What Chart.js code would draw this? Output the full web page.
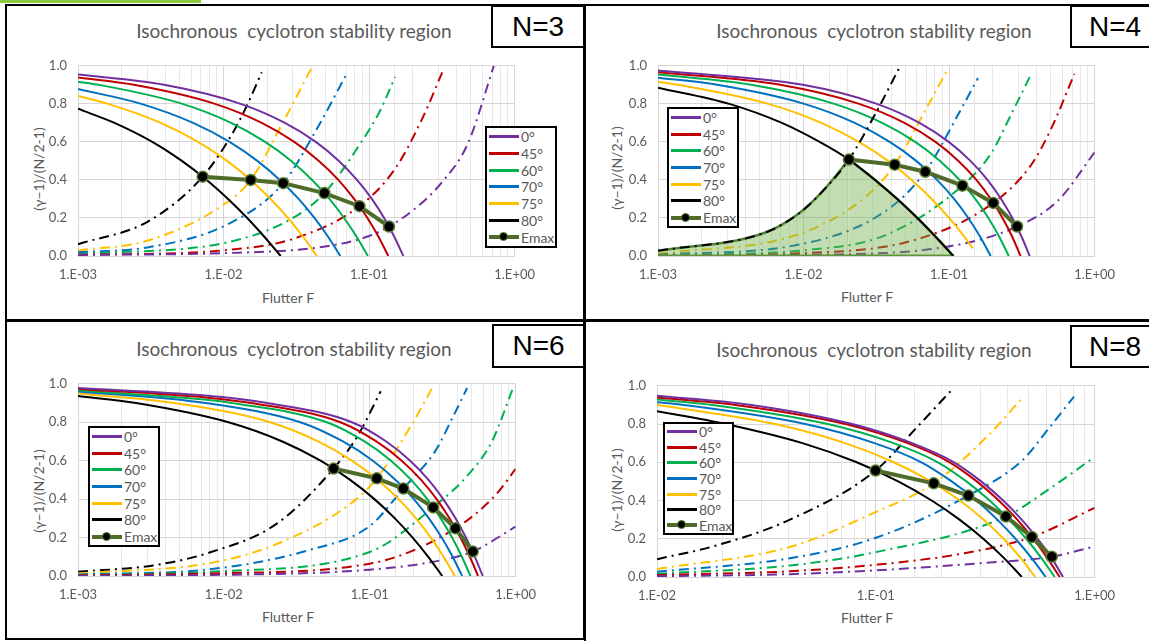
<!DOCTYPE html>
<html>
<head>
<meta charset="utf-8">
<script src="https://cdn.jsdelivr.net/npm/chart.js@4.4.0/dist/chart.umd.min.js"></script>
<style>
  body { margin: 0; background: #fff; }
  #page { position: relative; width: 1149px; height: 641px; overflow: hidden; background: #fff; font-family: Lato, "Open Sans", sans-serif; }
  .frame { position: absolute; border: 2px solid #000; box-sizing: border-box; }
  .title { position: absolute; transform: translate(-50%, -50%); white-space: pre; color: #595959; font-size: 19px; }
  .axt { position: absolute; transform: translate(-50%, -50%); white-space: nowrap; color: #595959; font-size: 14px; }
  .axt.y { transform: translate(-50%, -50%) rotate(-90deg); font-size: 14px; }
  .nbox { position: absolute; border: 2px solid #000; box-sizing: border-box; background: #fff;
          font-family: "Liberation Sans", Arial, sans-serif; font-size: 28px; color: #000;
          display: flex; align-items: center; justify-content: center; }
  .legend { position: absolute; border: 2px solid #000; box-sizing: border-box; background: #fff; padding: 0 0 0 2px; }
  .row { display: flex; align-items: center; color: #595959; font-size: 14px; }
  .smp { position: relative; width: 30px; height: 3px; margin-right: 2px; flex: none; }
  .dot { position: absolute; left: 10px; top: -3px; width: 7px; height: 7px; border-radius: 50%; background: #000; border: 1.5px solid #5a7d33; }
</style>
</head>
<body>
<div id="page"></div>
<script>
// ---- series (F, y); one list per angle ----
const ANGLES = ['0°', '45°', '60°', '70°', '75°', '80°'];
const ANGLE_COLORS = ['#7030a0', '#c00000', '#00b050', '#0070c0', '#ffc000', '#000000'];
const X_TICK_LABELS = ['1.E-03', '1.E-02', '1.E-01', '1.E+00'];
const Y_TICK_LABELS = ['0.0', '0.2', '0.4', '0.6', '0.8', '1.0'];
const TITLE = 'Isochronous  cyclotron stability region';
const X_TITLE = 'Flutter F';
const Y_TITLE = '(γ−1)/(N/2-1)';

// N=3
const N3_SOLID = [
  [[1e-3,0.954],[0.0039,0.9],[0.0131,0.8],[0.0264,0.7],[0.043,0.6],[0.062,0.5],[0.0826,0.4],[0.1044,0.3],[0.1268,0.2],[0.1493,0.1],[0.172,0]],
  [[1e-3,0.938],[0.00242,0.9],[0.00873,0.8],[0.0183,0.7],[0.0306,0.6],[0.0452,0.5],[0.0615,0.4],[0.0789,0.3],[0.0974,0.2],[0.1163,0.1],[0.1355,0]],
  [[1e-3,0.916],[0.00139,0.9],[0.00522,0.8],[0.01128,0.7],[0.0193,0.6],[0.0292,0.5],[0.0406,0.4],[0.0534,0.3],[0.0673,0.2],[0.0823,0.1],[0.098,0]],
  [[1e-3,0.878],[0.00272,0.8],[0.00618,0.7],[0.011,0.6],[0.01706,0.5],[0.02435,0.4],[0.0328,0.3],[0.0421,0.2],[0.0524,0.1],[0.0634,0]],
  [[1e-3,0.841],[0.00161,0.8],[0.0037,0.7],[0.00668,0.6],[0.01056,0.5],[0.01535,0.4],[0.02106,0.3],[0.0277,0.2],[0.0353,0.1],[0.0438,0]],
  [[1e-3,0.774],[0.00178,0.7],[0.00324,0.6],[0.00517,0.5],[0.00766,0.4],[0.01074,0.3],[0.01454,0.2],[0.01913,0.1],[0.0247,0]],
];
const N3_DASH = [
  [[1e-3,0.006],[0.01,0.015],[0.05,0.05],[0.1,0.105],[0.137,0.155],[0.2,0.24],[0.313,0.383],[0.477,0.591],[0.72,1.0]],
  [[1e-3,0.005],[0.01,0.03],[0.03,0.09],[0.0859,0.262],[0.151,0.459],[0.229,0.713],[0.322,0.975]],
  [[1e-3,0.009],[0.0109,0.074],[0.03,0.2],[0.0493,0.331],[0.0891,0.603],[0.119,0.764],[0.151,0.941]],
  [[1e-3,0.02],[3e-3,0.045],[0.0109,0.17],[0.0257,0.383],[0.0439,0.67],[0.0702,0.958]],
  [[1e-3,0.029],[3e-3,0.08],[0.01,0.27],[0.0154,0.40],[0.0253,0.696],[0.041,1.0]],
  [[1e-3,0.062],[3e-3,0.18],[0.00719,0.417],[0.01153,0.645],[0.0146,0.797],[0.0183,0.966]],
];
const N3_EMAX = [[0.00719,0.417],[0.01538,0.400],[0.0257,0.383],[0.0493,0.331],[0.0859,0.262],[0.137,0.155]];

// N=4
const N4_SOLID = [
  [[1e-3,0.975],[0.00989,0.9],[0.0319,0.8],[0.0626,0.7],[0.0994,0.6],[0.1402,0.5],[0.1835,0.4],[0.2278,0.3],[0.272,0.2],[0.3155,0.1],[0.358,0]],
  [[1e-3,0.966],[0.0069,0.9],[0.0241,0.8],[0.0493,0.7],[0.0806,0.6],[0.116,0.5],[0.154,0.4],[0.1933,0.3],[0.2329,0.2],[0.2719,0.1],[0.31,0]],
  [[1e-3,0.954],[0.00437,0.9],[0.01626,0.8],[0.0347,0.7],[0.0585,0.6],[0.0866,0.5],[0.1179,0.4],[0.1513,0.3],[0.1862,0.2],[0.2215,0.1],[0.257,0]],
  [[1e-3,0.9375],[0.00255,0.9],[0.01012,0.8],[0.02247,0.7],[0.0391,0.6],[0.0594,0.5],[0.0827,0.4],[0.1082,0.3],[0.1354,0.2],[0.1639,0.1],[0.193,0]],
  [[1e-3,0.916],[0.001374,0.9],[0.00574,0.8],[0.01324,0.7],[0.02397,0.6],[0.038,0.5],[0.0553,0.4],[0.076,0.3],[0.1,0.2],[0.1275,0.1],[0.1456,0.04]],
  [[1e-3,0.885],[0.00309,0.8],[0.00709,0.7],[0.0129,0.6],[0.0205,0.507],[0.031,0.4],[0.044,0.3],[0.0605,0.2],[0.0811,0.1],[0.107,0]],
];
const N4_DASH = [
  [[1e-3,0.001],[0.01,0.006],[0.099,0.05],[0.293,0.155],[0.558,0.29],[1.0,0.545]],
  [[1e-3,0.002],[0.01,0.015],[0.0586,0.085],[0.201,0.279],[0.367,0.48],[0.503,0.67],[0.726,0.958]],
  [[1e-3,0.004],[0.01,0.03],[0.0366,0.11],[0.1234,0.370],[0.196,0.544],[0.268,0.747],[0.367,0.958]],
  [[1e-3,0.007],[0.00933,0.06],[0.0366,0.236],[0.0686,0.443],[0.116,0.747],[0.158,0.936]],
  [[1e-3,0.012],[0.00933,0.115],[0.0266,0.31],[0.0423,0.48],[0.0723,0.797],[0.098,0.983]],
  [[1e-3,0.027],[0.00553,0.125],[0.00933,0.225],[0.0135,0.34],[0.0205,0.507],[0.032,0.764],[0.0462,1.0]],
];
const N4_EMAX = [[0.0205,0.507],[0.0423,0.480],[0.0686,0.443],[0.1234,0.370],[0.201,0.279],[0.293,0.155]];

// N=6
const N6_SOLID = [
  [[1e-3,0.978],[0.00714,0.94],[0.0198,0.9],[0.0755,0.8],[0.1296,0.7],[0.1893,0.6],[0.2529,0.5],[0.319,0.4],[0.3871,0.3],[0.456,0.2],[0.5256,0.1],[0.595,0]],
  [[1e-3,0.973],[0.00772,0.928],[0.0154,0.9],[0.0628,0.8],[0.111,0.7],[0.1656,0.6],[0.2248,0.5],[0.2873,0.4],[0.352,0.3],[0.4183,0.2],[0.4854,0.1],[0.553,0]],
  [[1e-3,0.966],[0.00702,0.919],[0.01131,0.9],[0.0508,0.8],[0.092,0.7],[0.1397,0.6],[0.1921,0.5],[0.248,0.4],[0.3065,0.3],[0.3667,0.2],[0.428,0.1],[0.49,0]],
  [[1e-3,0.96],[0.00746,0.9],[0.0334,0.8],[0.0655,0.7],[0.105,0.6],[0.1504,0.5],[0.2007,0.4],[0.2544,0.3],[0.3113,0.2],[0.3699,0.1],[0.43,0]],
  [[1e-3,0.95],[0.00457,0.9],[0.02074,0.8],[0.0443,0.7],[0.0754,0.6],[0.1135,0.5],[0.1578,0.4],[0.2075,0.3],[0.262,0.2],[0.3207,0.1],[0.383,0]],
  [[1e-3,0.936],[0.0025,0.9],[0.01075,0.8],[0.02516,0.7],[0.046,0.6],[0.0734,0.5],[0.1076,0.4],[0.1487,0.3],[0.1967,0.2],[0.2518,0.1],[0.314,0]],
];
const N6_DASH = [
  [[1e-3,0.001],[0.00798,0.005],[0.1,0.033],[0.3,0.08],[0.508,0.1275],[1.0,0.257]],
  [[1e-3,0.003],[0.00798,0.013],[0.1,0.064],[0.387,0.248],[0.726,0.42],[1.0,0.557]],
  [[1e-3,0.005],[0.00798,0.022],[0.1,0.125],[0.272,0.357],[0.477,0.53],[0.689,0.701],[0.969,0.987]],
  [[1e-3,0.008],[0.00798,0.035],[0.0385,0.135],[0.1,0.26],[0.170,0.455],[0.282,0.651],[0.367,0.819],[0.465,0.978]],
  [[1e-3,0.013],[0.00798,0.067],[0.0228,0.165],[0.076,0.383],[0.1117,0.508],[0.196,0.794],[0.268,0.978]],
  [[1e-3,0.022],[0.00327,0.055],[0.00798,0.122],[0.0228,0.27],[0.0565,0.559],[0.0823,0.727],[0.1189,0.961]],
];
const N6_EMAX = [[0.0565,0.559],[0.1117,0.508],[0.170,0.455],[0.272,0.357],[0.387,0.248],[0.508,0.1275]];

// N=8 (axis starts at 1e-2)
const N8_SOLID = [
  [[0.01,0.948],[0.027,0.9],[0.078,0.8],[0.1464,0.7],[0.2278,0.6],[0.3028,0.5],[0.382,0.4],[0.464,0.3],[0.549,0.2],[0.6355,0.1],[0.717,0]],
  [[0.01,0.939],[0.02283,0.9],[0.0726,0.8],[0.1398,0.7],[0.2176,0.6],[0.2892,0.5],[0.3648,0.4],[0.4431,0.3],[0.5243,0.2],[0.6069,0.1],[0.692,0]],
  [[0.01,0.928],[0.0179,0.9],[0.0603,0.8],[0.1205,0.7],[0.1921,0.6],[0.2593,0.5],[0.3311,0.4],[0.4072,0.3],[0.4869,0.2],[0.5703,0.1],[0.657,0]],
  [[0.01,0.914],[0.01321,0.9],[0.0476,0.8],[0.0986,0.7],[0.1615,0.6],[0.2222,0.5],[0.2884,0.4],[0.3592,0.3],[0.4348,0.2],[0.5144,0.1],[0.598,0]],
  [[0.01,0.901],[0.03464,0.8],[0.0724,0.7],[0.1209,0.6],[0.1781,0.5],[0.2421,0.4],[0.3112,0.3],[0.3838,0.2],[0.4588,0.1],[0.535,0]],
  [[0.01,0.867],[0.02055,0.8],[0.0462,0.7],[0.0818,0.6],[0.1265,0.5],[0.18,0.4],[0.2413,0.3],[0.3097,0.2],[0.3845,0.1],[0.465,0]],
];
const N8_DASH = [
  [[0.01,0.004],[0.0405,0.015],[0.1,0.035],[0.3,0.072],[0.637,0.106],[1.0,0.16]],
  [[0.01,0.01],[0.0405,0.03],[0.1,0.064],[0.25,0.123],[0.516,0.209],[1.0,0.362]],
  [[0.01,0.017],[0.0405,0.06],[0.1,0.13],[0.393,0.3165],[0.62,0.46],[1.0,0.628]],
  [[0.01,0.027],[0.0405,0.098],[0.1,0.205],[0.2647,0.426],[0.468,0.611],[0.619,0.779],[0.805,0.944]],
  [[0.01,0.042],[0.0405,0.157],[0.1,0.34],[0.184,0.49],[0.33,0.746],[0.46,0.928]],
  [[0.01,0.093],[0.0187,0.165],[0.0405,0.30],[0.0998,0.557],[0.153,0.779],[0.222,0.978]],
];
const N8_EMAX = [[0.0998,0.557],[0.184,0.490],[0.2647,0.426],[0.393,0.3165],[0.516,0.209],[0.637,0.106]];

const EMAX_COLOR = '#4f6b2a';
const REGION_FILL = 'rgba(112,173,71,0.42)';
const REGION_EDGE = '#548235';

// layout of the four panels (page px)
const PANELS = [
  { n: 'N=3', plot: [78, 59, 516, 256], xMin: 1e-3, solid: N3_SOLID, dash: N3_DASH, emax: N3_EMAX,
    frame: [5, 4, 580, 317], nBox: [491, 5, 94, 43], title: [294, 30], xTitle: [288, 297], yTitle: [38, 169], legend: [485, 126, 72, 122] },
  { n: 'N=4', plot: [658, 59, 1096, 256], xMin: 1e-3, solid: N4_SOLID, dash: N4_DASH, emax: N4_EMAX, region: true,
    frame: [584, 4, 580, 317], nBox: [1070, 5, 90, 43], title: [874, 30], xTitle: [867, 296], yTitle: [616, 168], legend: [667, 107, 72, 121] },
  { n: 'N=6', plot: [78, 377, 517, 576], xMin: 1e-3, solid: N6_SOLID, dash: N6_DASH, emax: N6_EMAX,
    frame: [5, 320, 580, 320], nBox: [492, 324, 93, 44], title: [294, 348], xTitle: [288, 616], yTitle: [38, 491], legend: [88, 426, 72, 121] },
  { n: 'N=8', plot: [657, 379, 1096, 577], xMin: 1e-2, solid: N8_SOLID, dash: N8_DASH, emax: N8_EMAX,
    frame: [584, 320, 580, 324], nBox: [1070, 325, 90, 43], title: [874, 349], xTitle: [867, 617], yTitle: [616, 490], legend: [663, 422, 71, 113] },
];

Chart.defaults.font.family = 'Lato';
const page = document.getElementById('page');

function el(cls, text, css) {
  const d = document.createElement('div');
  d.className = cls;
  if (text) d.textContent = text;
  d.style.cssText = css;
  page.appendChild(d);
  return d;
}

const pts = (a) => a.map(([x, y]) => ({ x, y }));
function isDecade(v) {
  const l = Math.log10(v);
  return Math.abs(l - Math.round(l)) < 1e-6;
}

function buildChart(p) {
  const [l, t, r, b] = p.plot;
  const ML = 45, MT = 12, MR = 30, MB = 34;
  const canvas = document.createElement('canvas');
  canvas.width = r - l + ML + MR;
  canvas.height = b - t + MT + MB;
  canvas.style.cssText = `position:absolute;left:${l - ML}px;top:${t - MT}px;`;
  page.appendChild(canvas);

  const datasets = [];
  p.dash.forEach((d, i) => datasets.push({
    data: pts(d), borderColor: ANGLE_COLORS[i], borderWidth: 2, borderDash: [10, 5, 2, 5],
    order: p.region && i === 5 ? 1 : 4,
  }));
  p.solid.forEach((d, i) => datasets.push({
    data: pts(d), borderColor: ANGLE_COLORS[i], borderWidth: 2, order: 2,
  }));
  if (p.region) {
    // shaded stable region under the 80° pair of curves, apex at the first Emax point
    const apex = p.emax[0];
    const up = p.dash[5].filter((q) => q[0] <= apex[0]);
    const down = [apex, ...p.solid[5].filter((q) => q[0] > apex[0])];
    const edge = { borderColor: REGION_EDGE, borderWidth: 2.5, backgroundColor: REGION_FILL, fill: 'origin', order: 3 };
    datasets.push({ data: pts(up), ...edge });
    datasets.push({ data: pts(down), ...edge });
    datasets.push({ data: pts([[up[0][0], 0], [down[down.length - 1][0], 0]]), borderColor: REGION_EDGE, borderWidth: 3, order: 3 });
  }
  datasets.push({
    data: pts(p.emax), borderColor: EMAX_COLOR, borderWidth: 4, tension: 0, cubicInterpolationMode: 'default',
    pointRadius: 5.5, pointBackgroundColor: '#000', pointBorderColor: '#5a7d33', pointBorderWidth: 1.5, order: 0,
  });

  new Chart(canvas.getContext('2d'), {
    type: 'line',
    data: { datasets },
    options: {
      responsive: false,
      animation: false,
      events: [],
      layout: { padding: { left: 0, top: MT, right: MR, bottom: 0 } },
      plugins: { legend: { display: false }, tooltip: { enabled: false } },
      elements: { point: { radius: 0 }, line: { cubicInterpolationMode: 'monotone', fill: false } },
      scales: {
        x: {
          type: 'logarithmic', min: p.xMin, max: 1,
          afterFit: (s) => { s.height = MB; },
          grid: { drawTicks: false, color: (c) => (c.tick && isDecade(c.tick.value) ? '#d6d6d6' : '#e8e8e8') },
          border: { color: '#d6d6d6' },
          ticks: {
            autoSkip: false, maxRotation: 0, minRotation: 0, padding: 11, color: '#595959', font: { size: 13 },
            callback: (v) => (isDecade(v) ? X_TICK_LABELS[Math.round(Math.log10(v)) + 3] : ''),
          },
        },
        y: {
          min: 0, max: 1,
          afterFit: (s) => { s.width = ML; },
          grid: { drawTicks: false, color: '#d6d6d6' },
          border: { color: '#d6d6d6' },
          ticks: { stepSize: 0.2, padding: 11, color: '#595959', font: { size: 13 },
                   callback: (v) => Y_TICK_LABELS[Math.round(v * 5)] },
        },
      },
    },
  });
}

function buildLegend(p) {
  const [x, y, w, h] = p.legend;
  const box = el('legend', '', `left:${x}px;top:${y}px;width:${w}px;height:${h}px;`);
  const rowH = (h - 4) / 7;
  ANGLES.forEach((a, i) => {
    const row = document.createElement('div');
    row.className = 'row';
    row.style.height = rowH + 'px';
    row.innerHTML = `<span class="smp" style="background:${ANGLE_COLORS[i]}"></span><span>${a}</span>`;
    box.appendChild(row);
  });
  const row = document.createElement('div');
  row.className = 'row';
  row.style.height = rowH + 'px';
  row.innerHTML = `<span class="smp" style="background:${EMAX_COLOR};height:4px"><span class="dot"></span></span><span>Emax</span>`;
  box.appendChild(row);
}

// green accent line at the very top-left
el('', '', 'position:absolute;left:0;top:0;width:201px;height:3px;background:#8dc63f;');

PANELS.forEach((p) => {
  const [fx, fy, fw, fh] = p.frame;
  el('frame', '', `left:${fx}px;top:${fy}px;width:${fw}px;height:${fh}px;`);
});
PANELS.forEach((p) => {
  el('title', TITLE, `left:${p.title[0]}px;top:${p.title[1]}px;`);
  el('axt', X_TITLE, `left:${p.xTitle[0]}px;top:${p.xTitle[1]}px;`);
  el('axt y', Y_TITLE, `left:${p.yTitle[0]}px;top:${p.yTitle[1]}px;`);
  buildChart(p);
  buildLegend(p);
  const [nx, ny, nw, nh] = p.nBox;
  el('nbox', p.n, `left:${nx}px;top:${ny}px;width:${nw}px;height:${nh}px;`);
});
</script>
</body>
</html>
